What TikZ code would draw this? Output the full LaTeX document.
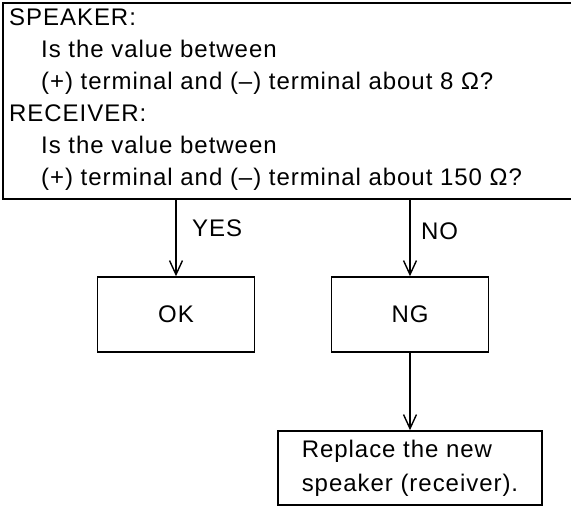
\documentclass[tikz,border=0pt]{standalone}
\usepackage{fontspec}
\setmainfont{Liberation Sans}[LetterSpace=4]
\usetikzlibrary{arrows.meta}
\begin{document}
\begin{tikzpicture}[x=1pt,y=-1pt,
  box/.style={draw, line width=1.6pt, inner sep=0pt, font=\fontsize{24}{34}\selectfont},
  txt/.style={anchor=base west, inner sep=0pt, font=\fontsize{24}{32}\selectfont},
  arr/.style={line width=1.4pt, -{Straight Barb[length=14pt,width=13pt,line width=1.4pt]}}]
\useasboundingbox (0,0) rectangle (571,506);
% question box (right side runs off the picture)
\node[inner sep=0pt, minimum width=568pt, minimum height=196pt] (q) at (287,101) {};
\draw[line width=1.6pt] (q.north east) -- (q.north west) -- (q.south west) -- (q.south east);
\node[txt] (l1) at (9,25) {SPEAKER:};
\node[txt] (l2) at (41,57) {Is the value between};
\node[txt] (l3) at (41,89) {(+) terminal and (–) terminal about 8 Ω?};
\node[txt] (l4) at (9,121) {RECEIVER:};
\node[txt] (l5) at (41,153) {Is the value between};
\node[txt] (l6) at (41,185) {(+) terminal and (–) terminal about 150 Ω?};
% result boxes
\node[box, minimum width=157pt, minimum height=75pt] (ok) at (176,314.5) {OK};
\node[box, minimum width=157pt, minimum height=75pt] (ng) at (410,314.5) {NG};
\node[box, align=left, minimum width=264pt, minimum height=74pt] (rep) at (410,468)
  {Replace the new\\speaker (receiver).};
% connectors
\draw[arr] (q.south -| ok.north) -- (ok.north);
\draw[arr] (q.south -| ng.north) -- (ng.north);
\draw[arr] (ng.south) -- (rep.north);
\node[txt] (yes) at (192,236) {YES};
\node[txt] (no) at (421,239) {NO};
\end{tikzpicture}
\end{document}
